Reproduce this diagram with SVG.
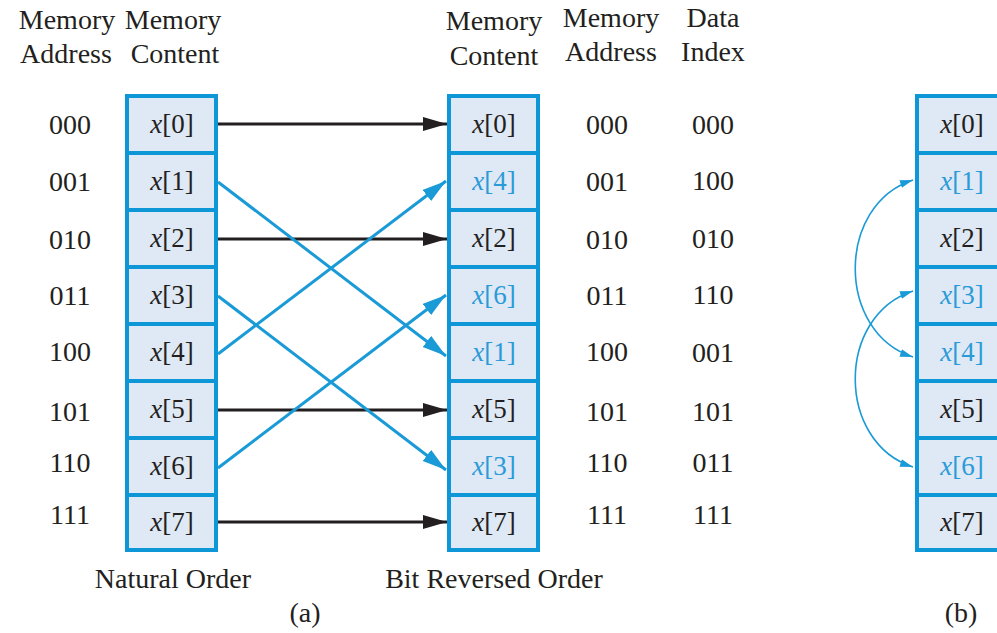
<svg xmlns="http://www.w3.org/2000/svg" width="997" height="633" viewBox="0 0 997 633">
  <style>
    text { font-family: "Liberation Serif", "Times New Roman", serif; font-size: 28px; fill: #231f20; text-anchor: middle; }
    .v { font-size: 27px; }
    .cell { fill: #dfe8f5; stroke: #0e97d6; stroke-width: 4; }
    .blue { fill: #2a9bd8; }
    .it { font-style: italic; }
    .k { stroke: #231f20; stroke-width: 3; fill: none; }
    .b { stroke: #1a9ad6; stroke-width: 3; fill: none; }
    .arc { stroke: #1a9ad6; stroke-width: 1.6; fill: none; }
  </style>
  <defs>
    <marker id="ahK" markerUnits="userSpaceOnUse" markerWidth="26" markerHeight="16" refX="24" refY="7" orient="auto">
      <path d="M0,0 L24,7 L0,14 Z" fill="#231f20"/>
    </marker>
    <marker id="ahB" markerUnits="userSpaceOnUse" markerWidth="26" markerHeight="16" refX="24" refY="7" orient="auto">
      <path d="M0,0 L24,7 L0,14 Z" fill="#1a9ad6"/>
    </marker>
    <marker id="ahS" markerUnits="userSpaceOnUse" markerWidth="14" markerHeight="10" refX="13" refY="4" orient="auto-start-reverse">
      <path d="M0,0 L13,4 L0,8 Z" fill="#1a9ad6"/>
    </marker>
  </defs>

  <!-- headers -->
  <g id="headers">
    <text x="67" y="29">Memory</text>
    <text x="66" y="63">Address</text>
    <text x="173" y="29">Memory</text>
    <text x="175" y="63">Content</text>
    <text x="494" y="30">Memory</text>
    <text x="494" y="65">Content</text>
    <text x="611" y="27">Memory</text>
    <text x="611" y="61">Address</text>
    <text x="713" y="27">Data</text>
    <text x="713" y="61">Index</text>
  </g>

  <!-- addresses, natural order -->
  <g id="addr-left">
    <text x="70" y="134">000</text>
    <text x="70" y="191">001</text>
    <text x="70" y="249">010</text>
    <text x="70" y="305">011</text>
    <text x="70" y="361">100</text>
    <text x="70" y="421">101</text>
    <text x="70" y="472">110</text>
    <text x="70" y="524">111</text>
  </g>

  <!-- natural order array -->
  <g id="natural">
    <rect class="cell" x="127" y="96" width="89" height="57"/>
    <rect class="cell" x="127" y="153" width="89" height="57"/>
    <rect class="cell" x="127" y="210" width="89" height="57"/>
    <rect class="cell" x="127" y="267" width="89" height="57"/>
    <rect class="cell" x="127" y="324" width="89" height="57"/>
    <rect class="cell" x="127" y="381" width="89" height="57"/>
    <rect class="cell" x="127" y="438" width="89" height="57"/>
    <rect class="cell" x="127" y="495" width="89" height="55"/>
    <text class="v" x="172" y="133"><tspan class="it">x</tspan>[0]</text>
    <text class="v" x="172" y="190"><tspan class="it">x</tspan>[1]</text>
    <text class="v" x="172" y="247"><tspan class="it">x</tspan>[2]</text>
    <text class="v" x="172" y="304"><tspan class="it">x</tspan>[3]</text>
    <text class="v" x="172" y="361"><tspan class="it">x</tspan>[4]</text>
    <text class="v" x="172" y="418"><tspan class="it">x</tspan>[5]</text>
    <text class="v" x="172" y="475"><tspan class="it">x</tspan>[6]</text>
    <text class="v" x="172" y="531"><tspan class="it">x</tspan>[7]</text>
  </g>

  <!-- bit reversed array -->
  <g id="reversed">
    <rect class="cell" x="449" y="96" width="89" height="57"/>
    <rect class="cell" x="449" y="153" width="89" height="57"/>
    <rect class="cell" x="449" y="210" width="89" height="57"/>
    <rect class="cell" x="449" y="267" width="89" height="57"/>
    <rect class="cell" x="449" y="324" width="89" height="57"/>
    <rect class="cell" x="449" y="381" width="89" height="57"/>
    <rect class="cell" x="449" y="438" width="89" height="57"/>
    <rect class="cell" x="449" y="495" width="89" height="55"/>
    <text class="v" x="494" y="133"><tspan class="it">x</tspan>[0]</text>
    <text class="v blue" x="494" y="190"><tspan class="it">x</tspan>[4]</text>
    <text class="v" x="494" y="247"><tspan class="it">x</tspan>[2]</text>
    <text class="v blue" x="494" y="304"><tspan class="it">x</tspan>[6]</text>
    <text class="v blue" x="494" y="361"><tspan class="it">x</tspan>[1]</text>
    <text class="v" x="494" y="418"><tspan class="it">x</tspan>[5]</text>
    <text class="v blue" x="494" y="475"><tspan class="it">x</tspan>[3]</text>
    <text class="v" x="494" y="531"><tspan class="it">x</tspan>[7]</text>
  </g>

  <!-- addresses and data index, bit reversed -->
  <g id="addr-right">
    <text x="607" y="134">000</text>
    <text x="607" y="191">001</text>
    <text x="607" y="249">010</text>
    <text x="607" y="305">011</text>
    <text x="607" y="361">100</text>
    <text x="607" y="421">101</text>
    <text x="607" y="472">110</text>
    <text x="607" y="524">111</text>
    <text x="713" y="134">000</text>
    <text x="713" y="190">100</text>
    <text x="713" y="248">010</text>
    <text x="713" y="304">110</text>
    <text x="713" y="362">001</text>
    <text x="713" y="421">101</text>
    <text x="713" y="472">011</text>
    <text x="713" y="524">111</text>
  </g>

  <!-- in-place array -->
  <g id="inplace">
    <rect class="cell" x="917" y="96" width="89" height="57"/>
    <rect class="cell" x="917" y="153" width="89" height="57"/>
    <rect class="cell" x="917" y="210" width="89" height="57"/>
    <rect class="cell" x="917" y="267" width="89" height="57"/>
    <rect class="cell" x="917" y="324" width="89" height="57"/>
    <rect class="cell" x="917" y="381" width="89" height="57"/>
    <rect class="cell" x="917" y="438" width="89" height="57"/>
    <rect class="cell" x="917" y="495" width="89" height="55"/>
    <text class="v" x="962" y="133"><tspan class="it">x</tspan>[0]</text>
    <text class="v blue" x="962" y="190"><tspan class="it">x</tspan>[1]</text>
    <text class="v" x="962" y="247"><tspan class="it">x</tspan>[2]</text>
    <text class="v blue" x="962" y="304"><tspan class="it">x</tspan>[3]</text>
    <text class="v blue" x="962" y="361"><tspan class="it">x</tspan>[4]</text>
    <text class="v" x="962" y="418"><tspan class="it">x</tspan>[5]</text>
    <text class="v blue" x="962" y="475"><tspan class="it">x</tspan>[6]</text>
    <text class="v" x="962" y="531"><tspan class="it">x</tspan>[7]</text>
  </g>

  <!-- connectors -->
  <g id="connectors">
    <line class="k" x1="218" y1="124" x2="447" y2="124" marker-end="url(#ahK)"/>
    <line class="k" x1="218" y1="239" x2="447" y2="239" marker-end="url(#ahK)"/>
    <line class="k" x1="218" y1="410" x2="447" y2="410" marker-end="url(#ahK)"/>
    <line class="k" x1="218" y1="522" x2="447" y2="522" marker-end="url(#ahK)"/>
    <line class="b" x1="218" y1="182" x2="446" y2="356" marker-end="url(#ahB)"/>
    <line class="b" x1="218" y1="296" x2="446" y2="470" marker-end="url(#ahB)"/>
    <line class="b" x1="218" y1="354" x2="446" y2="181" marker-end="url(#ahB)"/>
    <line class="b" x1="218" y1="468" x2="446" y2="295" marker-end="url(#ahB)"/>
    <path class="arc" d="M913,180 C836,205 836,332 913,357" marker-start="url(#ahS)" marker-end="url(#ahS)"/>
    <path class="arc" d="M913,291 C836,316 836,442 913,467" marker-start="url(#ahS)" marker-end="url(#ahS)"/>
  </g>

  <!-- captions -->
  <g id="captions">
    <text x="173" y="588">Natural Order</text>
    <text x="494" y="588">Bit Reversed Order</text>
    <text x="305" y="622">(a)</text>
    <text x="961" y="622">(b)</text>
  </g>
</svg>
